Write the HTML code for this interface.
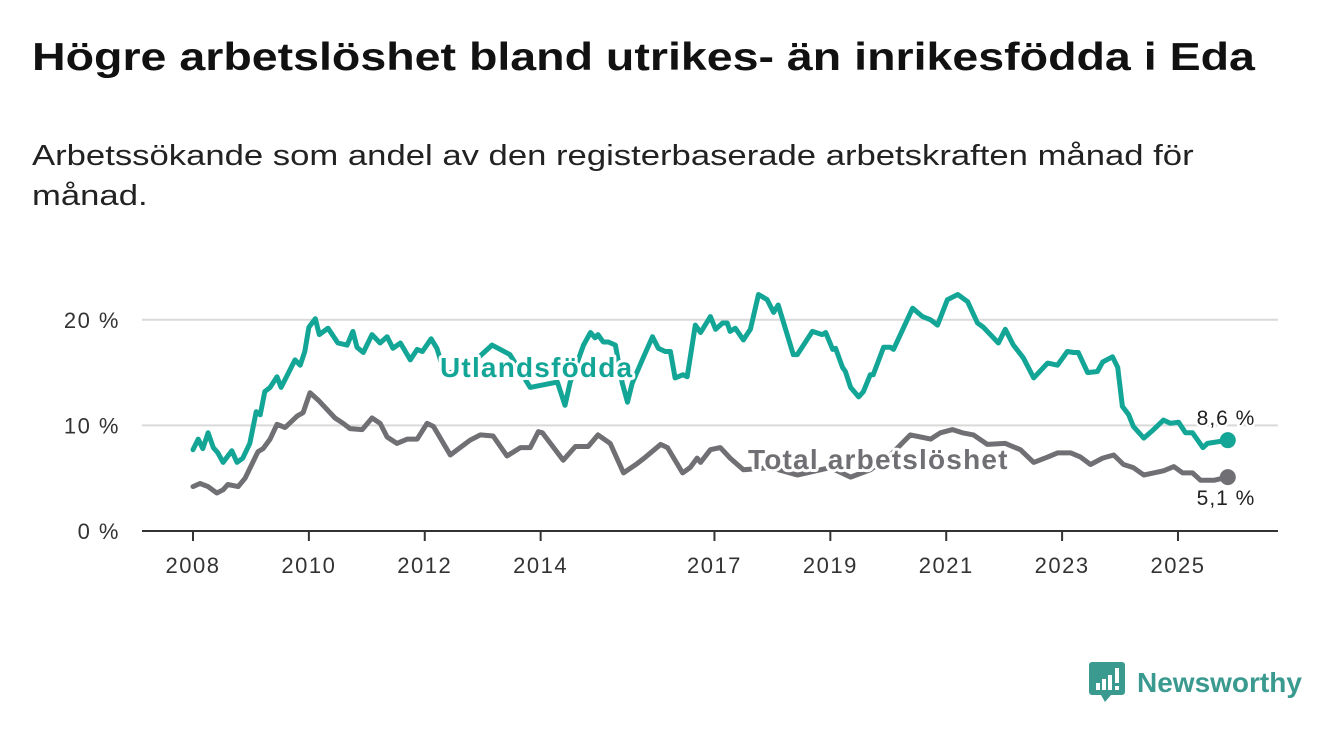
<!DOCTYPE html>
<html><head><meta charset="utf-8">
<style>
body{margin:0;background:#fff;width:1340px;height:734px;overflow:hidden;font-family:"Liberation Sans",sans-serif;}
#title{position:absolute;left:32px;top:36px;font-size:39px;font-weight:bold;color:#111;margin:0;white-space:nowrap;transform:scaleX(1.193);transform-origin:left top}
#sub{position:absolute;left:32px;top:136px;font-size:29px;color:#222;line-height:40px;white-space:nowrap;transform:scaleX(1.195);transform-origin:left top}
svg{position:absolute;left:0;top:0}
</style></head><body>
<h1 id="title">Högre arbetslöshet bland utrikes- än inrikesfödda i Eda</h1>
<div id="sub">Arbetssökande som andel av den registerbaserade arbetskraften månad för<br>månad.</div>
<svg id="chart" width="1340" height="734"></svg>
<div style="position:absolute;left:1089px;top:662px;height:42px;display:flex;align-items:center">
  <svg width="36" height="42" style="position:static">
    <path d="M3 0 H33 a3 3 0 0 1 3 3 V30 a3 3 0 0 1 -3 3 H22 L16 40 L12 33 H3 a3 3 0 0 1 -3 -3 V3 a3 3 0 0 1 3 -3Z" fill="#3a9a8f"/>
    <rect x="7" y="21" width="4" height="7" fill="#fff"/><rect x="13" y="17" width="4" height="11" fill="#fff"/><rect x="19" y="13" width="4" height="15" fill="#fff"/><rect x="26" y="6" width="4" height="15" fill="#fff"/><rect x="26" y="24" width="4" height="4" fill="#fff"/>
  </svg>
  <span style="font-size:28px;color:#3a9a8f;margin-left:12px;font-weight:bold">Newsworthy</span>
</div>
<script>
const yTicks=[0,10,20];
const yTickLabels=["0 %","10 %","20 %"];
const xTicks=[2008,2010,2012,2014,2017,2019,2021,2023,2025];
const foreignDates=[2008.00,2008.09,2008.17,2008.26,2008.35,2008.43,2008.52,2008.67,2008.76,2008.86,2008.98,2009.09,2009.16,2009.24,2009.33,2009.45,2009.52,2009.76,2009.85,2009.93,2010.00,2010.11,2010.18,2010.33,2010.50,2010.66,2010.76,2010.83,2010.94,2011.09,2011.23,2011.35,2011.45,2011.58,2011.75,2011.87,2011.96,2012.11,2012.21,2012.35,2012.78,2013.16,2013.47,2013.82,2014.29,2014.42,2014.51,2014.74,2014.86,2014.94,2014.99,2015.08,2015.17,2015.29,2015.41,2015.50,2015.58,2015.77,2015.93,2016.03,2016.15,2016.24,2016.32,2016.46,2016.53,2016.67,2016.76,2016.93,2017.02,2017.14,2017.22,2017.27,2017.36,2017.50,2017.62,2017.76,2017.91,2018.02,2018.10,2018.36,2018.43,2018.69,2018.86,2018.92,2019.04,2019.09,2019.21,2019.26,2019.35,2019.49,2019.57,2019.69,2019.74,2019.92,2020.04,2020.09,2020.42,2020.59,2020.73,2020.85,2021.02,2021.20,2021.37,2021.54,2021.64,2021.90,2022.02,2022.16,2022.33,2022.51,2022.75,2022.92,2023.09,2023.20,2023.28,2023.44,2023.61,2023.70,2023.87,2023.96,2024.04,2024.15,2024.23,2024.41,2024.58,2024.75,2024.87,2025.01,2025.13,2025.25,2025.43,2025.51,2025.86];
const foreignValues=[7.7,8.7,7.8,9.3,7.9,7.4,6.5,7.6,6.5,6.9,8.3,11.3,11.0,13.2,13.6,14.6,13.6,16.2,15.7,17.0,19.3,20.1,18.6,19.2,17.8,17.6,18.9,17.4,16.9,18.6,17.8,18.4,17.3,17.8,16.2,17.2,17.0,18.2,17.3,14.8,15.7,17.6,16.7,13.6,14.1,11.9,14.1,17.6,18.8,18.3,18.6,17.9,17.9,17.6,14.0,12.2,14.0,16.4,18.4,17.3,17.0,17.0,14.5,14.8,14.6,19.5,18.8,20.3,19.1,19.7,19.7,18.9,19.2,18.1,19.1,22.4,21.9,20.7,21.4,16.7,16.7,18.9,18.6,18.8,17.2,17.3,15.5,15.1,13.6,12.7,13.2,14.8,14.8,17.4,17.4,17.2,21.1,20.3,20.0,19.5,21.9,22.4,21.7,19.7,19.3,17.8,19.1,17.6,16.4,14.5,15.9,15.7,17.0,16.9,16.9,15.0,15.1,16.0,16.5,15.5,11.8,11.0,9.9,8.8,9.6,10.5,10.2,10.3,9.3,9.3,7.9,8.3,8.6];
const totalDates=[2008.00,2008.12,2008.26,2008.41,2008.52,2008.60,2008.78,2008.90,2009.12,2009.21,2009.33,2009.45,2009.59,2009.80,2009.90,2010.02,2010.16,2010.45,2010.59,2010.71,2010.92,2011.09,2011.23,2011.35,2011.52,2011.70,2011.87,2012.04,2012.15,2012.44,2012.61,2012.78,2012.96,2013.18,2013.42,2013.65,2013.82,2013.96,2014.03,2014.39,2014.60,2014.82,2014.99,2015.20,2015.43,2015.67,2015.81,2016.07,2016.19,2016.45,2016.58,2016.70,2016.76,2016.93,2017.10,2017.27,2017.50,2017.97,2018.43,2019.00,2019.35,2019.69,2020.04,2020.38,2020.56,2020.73,2020.90,2021.11,2021.28,2021.47,2021.71,2022.02,2022.28,2022.51,2022.75,2022.92,2023.15,2023.32,2023.49,2023.70,2023.89,2024.06,2024.23,2024.41,2024.58,2024.75,2024.93,2025.08,2025.25,2025.39,2025.62,2025.86];
const totalValues=[4.2,4.5,4.2,3.6,3.9,4.4,4.2,5.0,7.5,7.8,8.7,10.1,9.8,10.9,11.2,13.1,12.4,10.7,10.2,9.7,9.6,10.7,10.2,8.9,8.3,8.7,8.7,10.2,9.9,7.2,7.9,8.6,9.1,9.0,7.1,7.9,7.9,9.4,9.3,6.7,8.0,8.0,9.1,8.3,5.5,6.4,7.0,8.2,7.9,5.5,6.0,6.9,6.5,7.7,7.9,6.9,5.8,6.0,5.3,6.0,5.1,5.8,7.2,9.1,8.9,8.7,9.3,9.6,9.3,9.1,8.2,8.3,7.7,6.5,7.0,7.4,7.4,7.0,6.3,6.9,7.2,6.3,6.0,5.3,5.5,5.7,6.1,5.5,5.5,4.8,4.8,5.1];

const NS="http://www.w3.org/2000/svg";
const svg=document.getElementById('chart');
const X0=142,X1=1278;
const sx=d=>193+(d-2008)*57.94;
const sy=v=>531-v*10.56;
function mk(t,a,p){const e=document.createElementNS(NS,t);for(const k in a)e.setAttribute(k,a[k]);(p||svg).appendChild(e);return e;}

yTicks.forEach((v,i)=>{
  if(v>0){const g=mk('line',{x1:X0,x2:X1,y1:sy(v),y2:sy(v),stroke:'#d9d9d9','stroke-width':2});
  
  }
  const t=mk('text',{x:120,y:sy(v)+8,'text-anchor':'end','font-size':22,'letter-spacing':1.5,fill:'#333','font-family':'Liberation Sans, sans-serif'});
  t.textContent=yTickLabels[i];
  
  
});
const ax=mk('line',{x1:X0,x2:X1,y1:531,y2:531,stroke:'#333','stroke-width':2});


xTicks.forEach(y=>{
  const tk=mk('line',{x1:sx(y),x2:sx(y),y1:531,y2:541,stroke:'#333','stroke-width':2});
  
  
  const t=mk('text',{x:sx(y),y:573,'text-anchor':'middle','font-size':22,'letter-spacing':1.5,fill:'#333','font-family':'Liberation Sans, sans-serif'});
  t.textContent=y;
  
  
});
function line(dates,vals,color,name){
  const d=dates.map((x,i)=>(i?'L':'M')+sx(x).toFixed(1)+' '+sy(vals[i]).toFixed(1)).join(' ');
  const p=mk('path',{d:d,fill:'none',stroke:color,'stroke-width':5,'stroke-linejoin':'round','stroke-linecap':'round'});
  
  
  const n=dates.length-1;
  const c=mk('circle',{cx:sx(dates[n]),cy:sy(vals[n]),r:8,fill:color});
  
  
}
line(totalDates,totalValues,'#707074','total-line');
line(foreignDates,foreignValues,'#13a596','foreign-born-line');
function lbl(x,y,txt,color,size,bold,name,anchor,ls){
  const t=mk('text',{x:x,y:y,'font-size':size,'font-weight':bold?'bold':'normal','letter-spacing':ls||0,fill:color,stroke:'#fff','stroke-width':bold?6:5,'paint-order':'stroke','stroke-linejoin':'round','text-anchor':anchor||'start','font-family':'Liberation Sans, sans-serif'});
  t.textContent=txt;
  
  
}
lbl(440,377,'Utlandsfödda','#13a596',28,true,'foreign-born-label','start',1.2);
lbl(748,469,'Total arbetslöshet','#707074',28,true,'total-label','start',1.2);
const nf=foreignValues.length-1, nt=totalValues.length-1;
lbl(1226,sy(foreignValues[nf])-15,foreignValues[nf].toFixed(1).replace('.',',')+' %','#222',21,false,'foreign-born-end-value','middle',1);
lbl(1226,sy(totalValues[nt])+28,totalValues[nt].toFixed(1).replace('.',',')+' %','#222',21,false,'total-end-value','middle',1);
</script>
</body></html>
